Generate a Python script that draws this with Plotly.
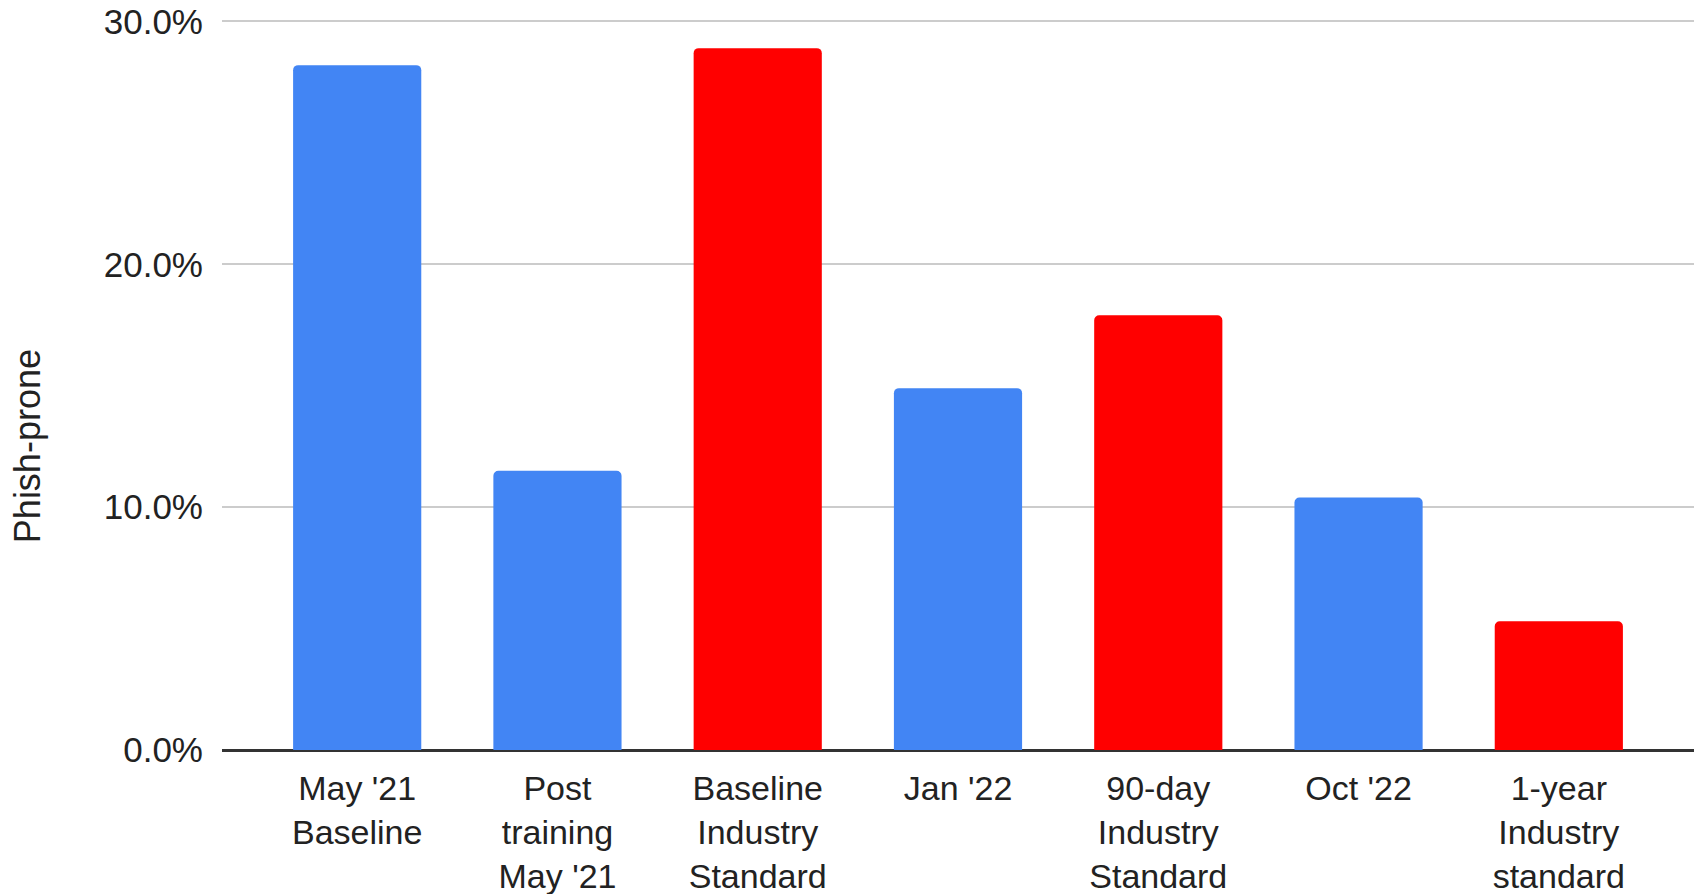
import plotly.graph_objects as go

# Phish-prone percentage per test / benchmark
categories = [
    "May '21<br>Baseline",
    "Post<br>training<br>May '21",
    "Baseline<br>Industry<br>Standard",
    "Jan '22",
    "90-day<br>Industry<br>Standard",
    "Oct '22",
    "1-year<br>Industry<br>standard",
]
phish_prone = [28.2, 11.5, 28.9, 14.9, 17.9, 10.4, 5.3]
bar_colors = ["#4285F4", "#4285F4", "#FF0000", "#4285F4", "#FF0000", "#4285F4", "#FF0000"]
y_ticks = [0, 10, 20, 30]
y_tick_labels = ["0.0%", "10.0%", "20.0%", "30.0%"]

FONT = "Liberation Sans, Arial, sans-serif"
TEXT = "#222222"

fig = go.Figure(
    go.Bar(
        x=list(range(len(categories))),
        y=phish_prone,
        marker=dict(color=bar_colors, cornerradius=5, line=dict(width=0)),
        width=0.64,
        hoverinfo="skip",
    )
)

fig.update_layout(
    width=1701,
    height=894,
    margin=dict(l=222, r=7, t=19, b=144),
    plot_bgcolor="white",
    paper_bgcolor="white",
    showlegend=False,
    font=dict(family=FONT, size=35, color=TEXT),
)

fig.update_xaxes(
    tickmode="array",
    tickvals=list(range(len(categories))),
    ticktext=categories,
    range=[-0.675, len(categories) - 1 + 0.675],
    showgrid=False,
    showline=False,
    ticks="",
    automargin=False,
    ticklabelstandoff=15,
    tickfont=dict(family=FONT, size=34, color=TEXT),
)

# slight headroom above 30% so its gridline is drawn
fig.update_yaxes(
    range=[0, 30.1],
    tickmode="array",
    tickvals=y_ticks,
    ticktext=y_tick_labels,
    showgrid=True,
    gridcolor="#cccccc",
    gridwidth=2,
    zeroline=True,
    zerolinecolor="#333333",
    zerolinewidth=3,
    showline=False,
    ticks="",
    automargin=False,
    ticklabelstandoff=18,
    tickfont=dict(family=FONT, size=35, color=TEXT),
)

fig.add_annotation(
    text="Phish-prone",
    xref="paper",
    yref="paper",
    x=-0.1325,
    y=0.4156,
    xanchor="center",
    yanchor="middle",
    textangle=-90,
    showarrow=False,
    font=dict(family=FONT, size=36, color=TEXT),
)

fig.write_html("out.html")
